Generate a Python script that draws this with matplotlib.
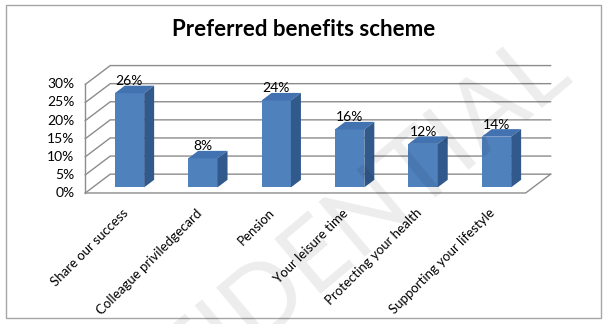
import numpy as np
import matplotlib.pyplot as plt
from matplotlib.patches import Polygon, Rectangle

categories = ['Share our success', 'Colleague priviledgecard', 'Pension',
              'Your leisure time', 'Protecting your health', 'Supporting your lifestyle']
shares = [26, 8, 24, 16, 12, 14]
yticks = [0, 5, 10, 15, 20, 25, 30]

plt.rcParams['font.family'] = ['Lato', 'DejaVu Sans']

# fake 3d: depth z in [0, 1] shifts points right/up
DX, DY = 0.34, 5.2
Z0, Z1 = 0.3, 0.7
HALF = 0.2

def proj(x, y, z):
    return (x + z * DX, y + z * DY)

front_c = '#4f81bd'
top_c = '#4272b0'
side_c = '#31598c'
grid_c = '#8c8c8c'

fig = plt.figure(figsize=(6.07, 3.24), dpi=100)
ax = fig.add_axes([0, 0, 1, 1])
ax.set_xlim(-1.662, 6.608)
ax.set_ylim(-36.19, 53.31)
ax.axis('off')

x0, x1 = -0.5, len(categories) - 0.5

# walls and floor
for v in yticks:
    pts = [proj(x0, v, 0), proj(x0, v, 1), proj(x1, v, 1)]
    ax.plot(*zip(*pts), color=grid_c, lw=1, zorder=1)
    ax.text(x0 - 0.15, v, f'{v}%', ha='right', va='center', fontsize=10)
floor = [proj(x0, 0, 0), proj(x1, 0, 0), proj(x1, 0, 1)]
ax.plot(*zip(*floor), color=grid_c, lw=1, zorder=1)
ax.plot(*zip(proj(x0, 0, 0), proj(x0, yticks[-1], 0)), color=grid_c, lw=1, zorder=1)

# bars
xs = np.arange(len(categories))
ax.bar(xs + Z0 * DX, shares, width=2 * HALF, bottom=Z0 * DY, color=front_c, zorder=3)
for i, v in zip(xs, shares):
    top = [proj(i - HALF, v, Z0), proj(i + HALF, v, Z0),
           proj(i + HALF, v, Z1), proj(i - HALF, v, Z1)]
    side = [proj(i + HALF, 0, Z0), proj(i + HALF, 0, Z1),
            proj(i + HALF, v, Z1), proj(i + HALF, v, Z0)]
    ax.add_patch(Polygon(top, closed=True, fc=top_c, ec='none', zorder=3))
    ax.add_patch(Polygon(side, closed=True, fc=side_c, ec='none', zorder=3))
    ax.text(i + Z0 * DX, v + Z1 * DY - 0.4, f'{v}%', ha='center', va='bottom', fontsize=10)

for i, name in zip(xs, categories):
    ax.text(i, -3.8, name, rotation=45, ha='right', va='top',
            rotation_mode='anchor', fontsize=9.5)

fig.text(0.501, 1 - 30 / 324, 'Preferred benefits scheme', ha='center', va='center',
         fontsize=16, fontweight='bold')

fig.text(278 / 607, 1 - 288 / 324, 'CONFIDENTIAL', rotation=40, fontsize=72,
         color='k', alpha=0.075, ha='center', va='center', zorder=5)

fig.patches.append(Rectangle((6 / 607, 6 / 324), 595 / 607, 313 / 324,
                             transform=fig.transFigure, fill=False,
                             ec='#a6a6a6', lw=1))

fig.savefig('out.png', dpi=100)
